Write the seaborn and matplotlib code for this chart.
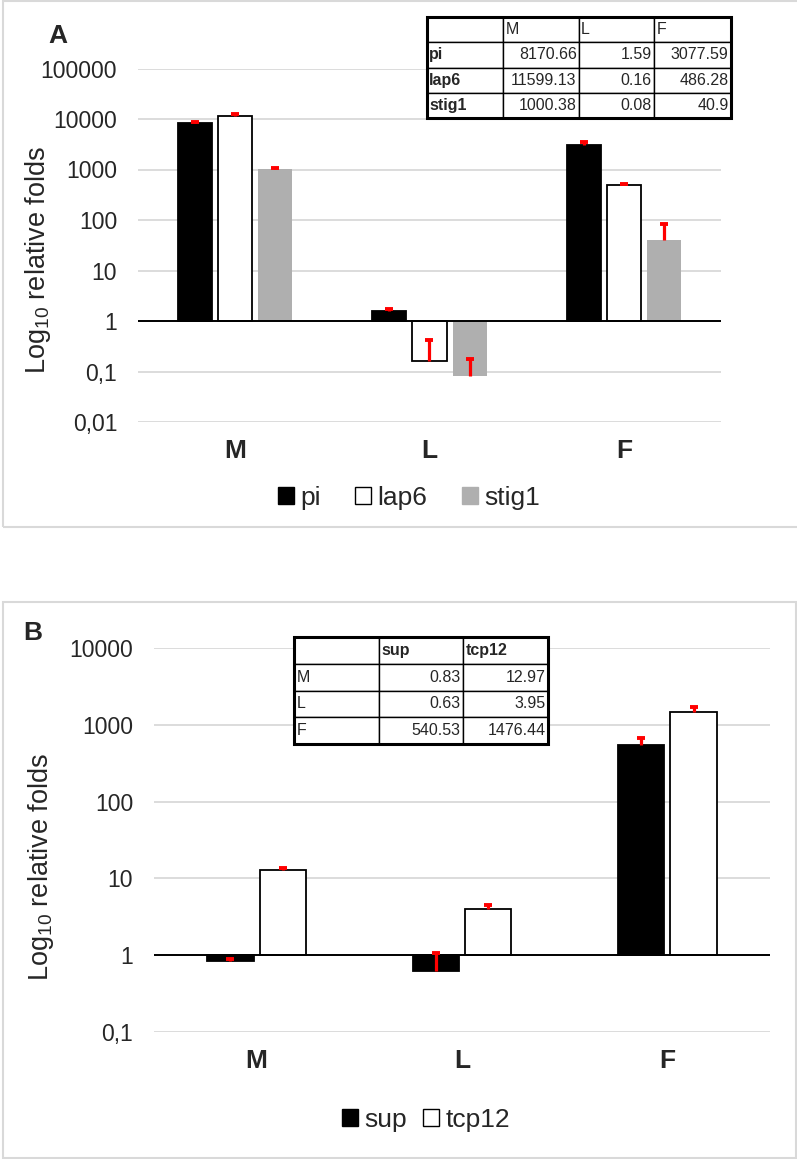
import numpy as np
import pandas as pd
import matplotlib
matplotlib.use("Agg")
import matplotlib.pyplot as plt
import seaborn as sns
from matplotlib.patches import Patch, Rectangle
from matplotlib.ticker import NullLocator

# -----------------------------
# Data
# -----------------------------
tissues = ["M", "L", "F"]

# panel A
genes_a = ["pi", "lap6", "stig1"]
pi_fold = [8170.66, 1.59, 3077.59]
lap6_fold = [11599.13, 0.16, 486.28]
stig1_fold = [1000.38, 0.08, 40.9]
pi_err = [730, 0.16, 440]
lap6_err = [700, 0.26, 24]
stig1_err = [50, 0.10, 41]

# panel B
genes_b = ["sup", "tcp12"]
sup_fold = [0.83, 0.63, 540.53]
tcp12_fold = [12.97, 3.95, 1476.44]
sup_err = [0.07, 0.43, 140]
tcp12_err = [0.8, 0.6, 215]

# table texts
table_a_rows = [["", "M", "L", "F"],
                ["pi", "8170.66", "1.59", "3077.59"],
                ["lap6", "11599.13", "0.16", "486.28"],
                ["stig1", "1000.38", "0.08", "40.9"]]
table_b_rows = [["", "sup", "tcp12"],
                ["M", "0.83", "12.97"],
                ["L", "0.63", "3.95"],
                ["F", "540.53", "1476.44"]]

ticks_a = [0.01, 0.1, 1, 10, 100, 1000, 10000, 100000]
ticklabels_a = ["0,01", "0,1", "1", "10", "100", "1000", "10000", "100000"]
ticks_b = [0.1, 1, 10, 100, 1000, 10000]
ticklabels_b = ["0,1", "1", "10", "100", "1000", "10000"]

# -----------------------------
# Style
# -----------------------------
sns.set_style("white")
plt.rcParams["font.family"] = ["Liberation Sans", "DejaVu Sans"]
plt.rcParams["mathtext.default"] = "regular"

W, H = 797, 1159
fig = plt.figure(figsize=(W / 100, H / 100), dpi=100)


def fx(px):
    return px / W


def fy(py):
    return 1 - py / H


def draw_panel(ax, genes, folds, errs, colors, edges, width, gap, ticks, ticklabels):
    df = pd.DataFrame({
        "tissue": tissues * len(genes),
        "gene": np.repeat(genes, len(tissues)),
        "fold": np.concatenate(folds),
    })
    sns.barplot(data=df, x="tissue", y="fold", hue="gene", order=tissues,
                hue_order=genes, palette=colors, width=width, gap=gap,
                errorbar=None, saturation=1, legend=False, ax=ax)
    # bars start at 1 (Excel style log axis crossing)
    for cont, vals, ec, err in zip(ax.containers, folds, edges, errs):
        xs = []
        for p, v in zip(cont.patches, vals):
            p.set_y(1)
            p.set_height(v - 1)
            p.set_edgecolor(ec)
            p.set_linewidth(1.3 if ec != "none" else 0)
            xs.append(p.get_x() + p.get_width() / 2)
        # upper error only, one cap on top
        tops = np.array(vals) + np.array(err)
        ax.vlines(xs, vals, tops, color="#FF0000", lw=2.3, zorder=4)
        ax.plot(xs, tops, ls="none", marker="_", ms=6, mew=2.8,
                color="#FF0000", zorder=4)
    ax.set_yscale("log")
    ax.set_ylim(ticks[0], ticks[-1])
    ax.set_xlim(-0.5, 2.5)
    ax.set_yticks(ticks, ticklabels)
    ax.yaxis.set_minor_locator(NullLocator())
    ax.yaxis.grid(True, color="#D9D9D9", lw=1.3)
    ax.set_axisbelow(True)
    ax.axhline(1, color="black", lw=1.4, zorder=3)
    for s in ax.spines.values():
        s.set_visible(False)
    ax.tick_params(axis="y", length=0, pad=15, labelsize=16.5)
    ax.tick_params(axis="x", length=0, pad=12, labelsize=19)
    for t in ax.get_xticklabels():
        t.set_fontweight("bold")
    ax.set_xlabel("")
    ax.set_ylabel("")


def draw_table(rect, rows, col_px, bold_first_col, bold_header):
    tax = fig.add_axes(rect)
    tax.axis("off")
    tb = tax.table(cellText=rows, bbox=[0, 0, 1, 1], cellLoc="right")
    tb.auto_set_font_size(False)
    tb.set_fontsize(11.5)
    total = sum(col_px)
    for (r, c), cell in tb.get_celld().items():
        cell.set_width(col_px[c] / total)
        cell.set_edgecolor("black")
        cell.set_linewidth(1.0)
        cell.PAD = 0.03
        txt = cell.get_text()
        if r == 0 or c == 0:
            cell._loc = "left"
            txt.set_ha("left")
        if (c == 0 and r > 0 and bold_first_col) or (r == 0 and bold_header):
            txt.set_fontweight("bold")
    tax.add_patch(Rectangle((0, 0), 1, 1, transform=tax.transAxes, fill=False,
                            edgecolor="black", lw=2.2, zorder=5, clip_on=False))


# -----------------------------
# Panel frames
# -----------------------------
fig.patches.append(Rectangle((fx(2.5), fy(527)), fx(797), fy(1) - fy(527),
                             transform=fig.transFigure, fill=False,
                             edgecolor="#D9D9D9", lw=1.5))
fig.patches.append(Rectangle((fx(2.5), fy(1158)), fx(796) - fx(2.5), fy(602) - fy(1158),
                             transform=fig.transFigure, fill=False,
                             edgecolor="#D9D9D9", lw=1.5))

# -----------------------------
# Panel A
# -----------------------------
ax_a = fig.add_axes([fx(138), fy(422), fx(721) - fx(138), fy(68.5) - fy(422)])
colors_a = ["#000000", "#FFFFFF", "#AFAFAF"]
edges_a = ["black", "black", "none"]
draw_panel(ax_a, genes_a, [pi_fold, lap6_fold, stig1_fold],
           [pi_err, lap6_err, stig1_err], colors_a, edges_a,
           width=0.62, gap=0.15, ticks=ticks_a, ticklabels=ticklabels_a)
handles_a = [Patch(facecolor=c, edgecolor=("black" if e != "none" else c), lw=1)
             for c, e in zip(colors_a, edges_a)]
fig.legend(handles_a, genes_a, loc="center", bbox_to_anchor=(fx(409), fy(498)),
           ncol=3, frameon=False, fontsize=19, handlelength=0.6, handleheight=0.6,
           handletextpad=0.25, columnspacing=1.3)
fig.text(fx(58), fy(36), "A", fontsize=19, fontweight="bold", ha="center", va="center")
fig.text(fx(38), fy(260), "Log$_{10}$ relative folds", fontsize=19.5,
         rotation=90, ha="center", va="center")
draw_table([fx(427), fy(118), fx(731) - fx(427), fy(17) - fy(118)],
           table_a_rows, [76, 76, 75, 77], True, False)

# -----------------------------
# Panel B
# -----------------------------
ax_b = fig.add_axes([fx(154), fy(1032), fx(770) - fx(154), fy(648) - fy(1032)])
colors_b = ["#000000", "#FFFFFF"]
edges_b = ["black", "black"]
draw_panel(ax_b, genes_b, [sup_fold, tcp12_fold], [sup_err, tcp12_err],
           colors_b, edges_b, width=0.51, gap=0.12, ticks=ticks_b,
           ticklabels=ticklabels_b)
handles_b = [Patch(facecolor=c, edgecolor="black", lw=1) for c in colors_b]
fig.legend(handles_b, genes_b, loc="center", bbox_to_anchor=(fx(426), fy(1120)),
           ncol=2, frameon=False, fontsize=19, handlelength=0.6, handleheight=0.6,
           handletextpad=0.25, columnspacing=0.6)
fig.text(fx(33), fy(633), "B", fontsize=19, fontweight="bold", ha="center", va="center")
fig.text(fx(41), fy(867), "Log$_{10}$ relative folds", fontsize=19.5,
         rotation=90, ha="center", va="center")
draw_table([fx(294), fy(744), fx(548) - fx(294), fy(637) - fy(744)],
           table_b_rows, [85, 84, 85], False, True)

fig.savefig("out.png", dpi=100)
